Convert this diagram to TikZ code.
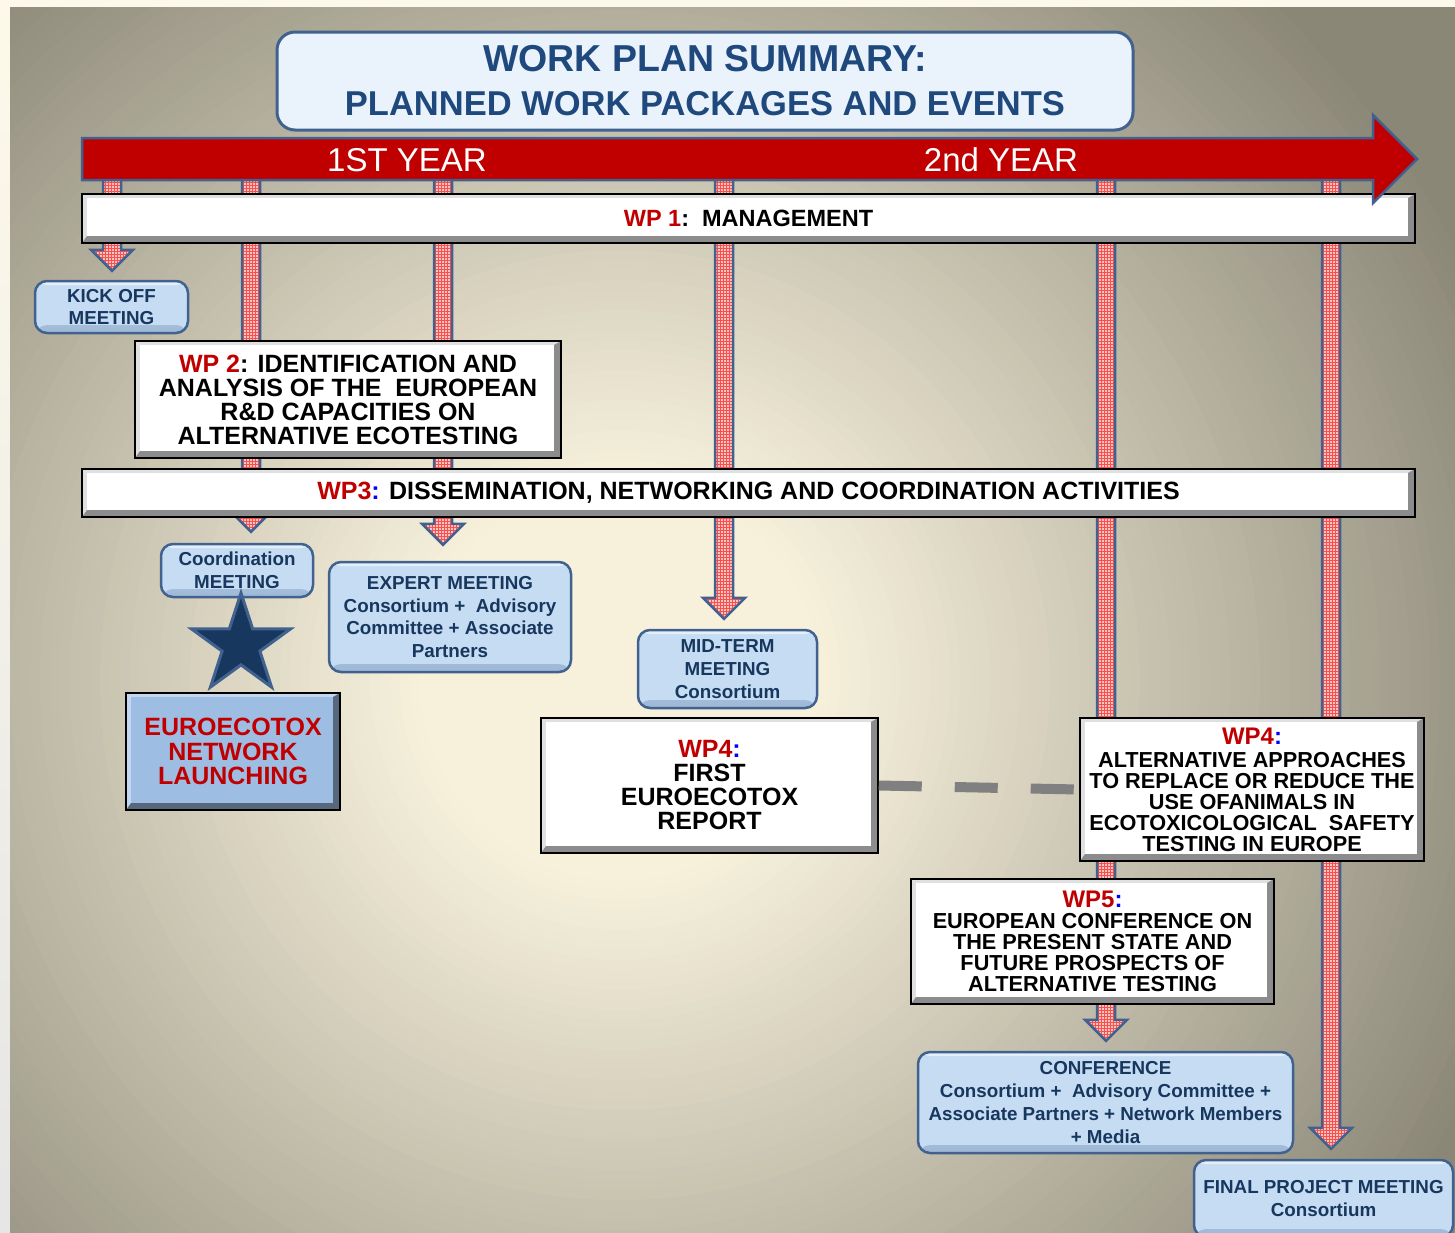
\documentclass[tikz,border=0pt]{standalone}
\usepackage{fontspec}
\setmainfont{Liberation Sans}
\usetikzlibrary{calc,patterns,shapes.geometric}
\definecolor{wpred}{HTML}{C00000}
\definecolor{wpblue}{HTML}{0000FF}
\definecolor{titleblue}{HTML}{1F497D}
\definecolor{frameblue}{HTML}{41628F}
\definecolor{titlefill}{HTML}{EAF3FC}
\definecolor{meetfill}{HTML}{C6DCF3}
\definecolor{meettext}{HTML}{17375E}
\definecolor{launchfill}{HTML}{9EBDE2}
\definecolor{shaftfill}{HTML}{F2C8C2}
\definecolor{bgcream}{HTML}{FDF9EA}
\definecolor{bglight}{HTML}{F7F1DC}
\definecolor{bgdark}{HTML}{8B8777}
\pgfdeclarelayer{back}
\pgfdeclarelayer{shafts}
\pgfsetlayers{back,shafts,main}
\newcommand\wpname[1]{\textcolor{wpred}{#1}}
\newcommand\wpcolon{\textcolor{wpblue}{:}}
% shaft from the time line (x) down to just above a node
\newcommand\wparrow[3]{%
  \path (#1,176) coordinate (s) (#2.north -| s) ++(0,-#3) coordinate (e);
  \draw[shaft] ($(s)+(-9,0)$) -- ($(e)+(-9,-21)$) -- ($(e)+(-21,-21)$) -- (e)
    -- ($(e)+(21,-21)$) -- ($(e)+(9,-21)$) -- ($(s)+(9,0)$) -- cycle;}
\tikzset{
  bevel/.style n args={3}{path picture={
    \fill[#2] (path picture bounding box.south west) rectangle (path picture bounding box.north east);
    \fill[#3] (path picture bounding box.south west) -- (path picture bounding box.south east)
      -- (path picture bounding box.north east) -- ([shift={(-7pt,-4pt)}]path picture bounding box.north east)
      -- ([shift={(5pt,7pt)}]path picture bounding box.south west) -- cycle;
    \fill[#1] ([shift={(5pt,7pt)}]path picture bounding box.south west)
      rectangle ([shift={(-7pt,-4pt)}]path picture bounding box.north east);}},
  wpbox/.style={draw=black, line width=1.5, fill=white, bevel={white}{black!12}{black!45},
    align=center, inner sep=0, font=\bfseries\fontsize{25}{24}\selectfont},
  wpsmall/.style={wpbox, font=\bfseries\fontsize{21.7}{21}\selectfont},
  launch/.style={draw=black, line width=2, fill=launchfill, bevel={launchfill}{launchfill!60!white}{launchfill!55!black},
    align=center, inner sep=0, text=wpred, font=\bfseries\fontsize{25}{24.5}\selectfont},
  meet/.style={draw=frameblue, line width=2.5, fill=meetfill, rounded corners=12, align=center, inner sep=0,
    text=meettext, font=\bfseries\fontsize{18.8}{22.7}\selectfont,
    path picture={\shade[top color=meetfill, bottom color=meetfill!70!frameblue]
      ([yshift=8pt]path picture bounding box.south west) rectangle (path picture bounding box.south east);
      \fill[white!55!meetfill] (path picture bounding box.north west) rectangle ([yshift=-4pt]path picture bounding box.north east);}},
  titlebox/.style={draw=frameblue, line width=3, fill=titlefill, rounded corners=18, align=center,
    text=titleblue, font=\bfseries\fontsize{37.5}{44}\selectfont},
  yearlbl/.style={text=white, font=\fontsize{33}{36}\selectfont},
  shaft/.style={preaction={fill=shaftfill}, pattern=grid, pattern color=red!70, draw=frameblue, line width=2.5},
  dashlink/.style={draw=black!50, line width=10, dash pattern=on 43pt off 33pt},
  starshape/.style={star, star points=5, star point ratio=2.618, minimum size=104, inner sep=0,
    fill=meettext, draw=frameblue, line width=3}
}
\begin{document}
\begin{tikzpicture}[x=1pt,y=-1pt]
\useasboundingbox (0,0) rectangle (1455,1232);
\begin{pgfonlayer}{back}
  \fill[bgcream] (0,0) rectangle (1455,1232);
  \shade[top color=bgcream, bottom color=black!10] (0,0) rectangle (10,1232);
  \begin{scope}
    \clip (10,7) rectangle (1455,1232);
    \foreach \r in {1100,1090,...,0}{
      \pgfmathtruncatemacro\mix{min(100,max(0,(\r-200)/7.5))}
      \fill[bgdark!\mix!bglight] (620,680) circle [radius=\r];
    }
  \end{scope}
\end{pgfonlayer}

\node[titlebox, minimum width=856, minimum height=98] (title) at (705,81)
  {WORK PLAN SUMMARY:\\{\fontsize{34.5}{44}\selectfont PLANNED WORK PACKAGES AND EVENTS}};

% work packages
\node[wpbox, font=\bfseries\fontsize{23.5}{24}\selectfont, minimum width=1333, minimum height=49] (wp1) at (748.5,218.5)
  {\wpname{WP 1}:\ \ MANAGEMENT};
\node[wpbox, minimum width=426, minimum height=117] (wp2) at (348,399.5)
  {\wpname{WP 2}: IDENTIFICATION AND\\ANALYSIS OF THE\ \ EUROPEAN\\R\&D CAPACITIES ON\\ALTERNATIVE ECOTESTING};
\node[wpbox, minimum width=1333, minimum height=48] (wp3) at (748.5,493)
  {\wpname{WP3}\wpcolon{} DISSEMINATION, NETWORKING AND COORDINATION ACTIVITIES};
\node[wpbox, minimum width=337, minimum height=135] (wp4a) at (709.5,785.5)
  {\wpname{WP4}\wpcolon\\FIRST\\EUROECOTOX\\REPORT};
\node[wpsmall, minimum width=344, minimum height=143] (wp4b) at (1252,789.5)
  {{\fontsize{24}{21}\selectfont\wpname{WP4}\wpcolon}\\[2pt]ALTERNATIVE APPROACHES\\TO REPLACE OR REDUCE THE\\USE OFANIMALS IN\\ECOTOXICOLOGICAL\ \ SAFETY\\TESTING IN EUROPE};
\node[wpsmall, minimum width=363, minimum height=125] (wp5) at (1092.5,941.5)
  {{\fontsize{24}{21}\selectfont\wpname{WP5}\wpcolon}\\EUROPEAN CONFERENCE ON\\THE PRESENT STATE AND\\FUTURE PROSPECTS OF\\ALTERNATIVE TESTING};

% meetings and events
\node[meet, minimum width=153, minimum height=52] (kick) at (111.5,307) {KICK OFF\\MEETING};
\node[meet, minimum width=152, minimum height=53] (coord) at (237,570.5) {Coordination\\MEETING};
\node[meet, minimum width=242, minimum height=110] (expert) at (450,617)
  {EXPERT MEETING\\Consortium +\ \ Advisory\\Committee + Associate\\Partners};
\node[meet, minimum width=179, minimum height=78] (mid) at (727.5,669) {MID-TERM\\MEETING\\Consortium};
\node[meet, minimum width=375, minimum height=101] (conf) at (1105.5,1102.5)
  {CONFERENCE\\Consortium +\ \ Advisory Committee +\\Associate Partners + Network Members\\+ Media};
\node[meet, minimum width=259, minimum height=77] (final) at (1323.5,1198.5) {FINAL PROJECT MEETING\\Consortium};
\node[launch, minimum width=214, minimum height=117] (launch) at (233,751.5) {EUROECOTOX\\NETWORK\\LAUNCHING};
\node[starshape] (star) at (241,645) {};

\draw[dashlink] (wp4a.east) -- (wp4b.west);

% time line
\draw[line width=2.5, draw=frameblue, fill=wpred] (82,138) -- (1373,138) -- (1373,115) -- (1417,159)
  -- (1373,203) -- (1373,180) -- (82,180) -- cycle;
\node[yearlbl] (year1) at (407,160) {1ST YEAR};
\node[yearlbl] (year2) at (1001,160) {2nd YEAR};

\begin{pgfonlayer}{shafts}
  \wparrow{112}{kick}{9}
  \wparrow{251}{coord}{11}
  \wparrow{443}{expert}{16}
  \wparrow{724}{mid}{10}
  \wparrow{1106}{conf}{10}
  \wparrow{1331}{final}{10}
\end{pgfonlayer}
\end{tikzpicture}
\end{document}
